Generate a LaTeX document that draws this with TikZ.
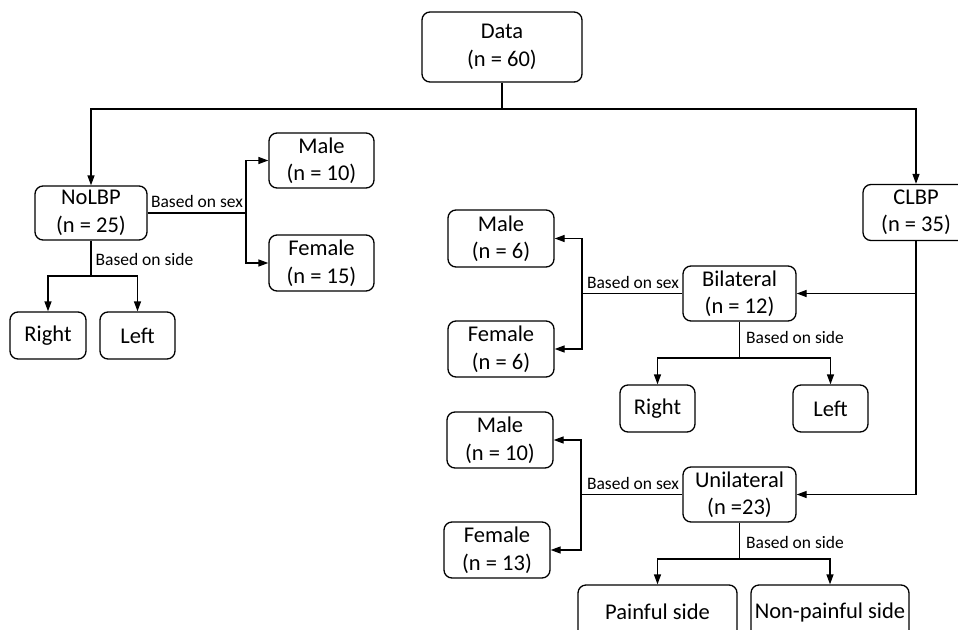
\documentclass[tikz,border=0pt]{standalone}
\usepackage{fontspec}
\setmainfont{Carlito}
\usetikzlibrary{arrows.meta}
\begin{document}
\begin{tikzpicture}[x=1pt,y=-1pt,
  box/.style={draw, line width=1.3pt, rounded corners=8pt, align=center, inner sep=0pt,
    font=\fontsize{22.5}{27.5}\selectfont},
  lab/.style={font=\fontsize{17.5}{20}\selectfont, inner sep=0pt},
  conn/.style={line width=1.3pt},
  arr/.style={conn, -{Triangle[length=10pt,width=7pt]}}]
\fill[white] (0,0) rectangle (958,629);
\useasboundingbox (0,0) rectangle (958,629);

% nodes
\node[box, minimum width=160pt, minimum height=70pt] (data) at (502,47) {Data\\(n = 60)};
\node[box, minimum width=112pt, minimum height=54pt] (nolbp) at (91,213) {NoLBP\\(n = 25)};
\node[box, minimum width=106pt, minimum height=56pt] (clbp) at (916,212.5) {CLBP\\(n = 35)};

\node[box, minimum width=105pt, minimum height=55pt] (m1) at (321.5,160.5) {Male\\(n = 10)};
\node[box, minimum width=105pt, minimum height=56pt] (f1) at (321.5,263) {Female\\(n = 15)};
\node[box, minimum width=76pt, minimum height=47pt] (r1) at (48,335.5) {Right};
\node[box, minimum width=75pt, minimum height=47pt] (l1) at (137.5,335.5) {Left};

\node[box, minimum width=113pt, minimum height=55pt] (bil) at (739.5,293.5) {Bilateral\\(n = 12)};
\node[box, minimum width=106pt, minimum height=57pt] (m2) at (501,238.5) {Male\\(n = 6)};
\node[box, minimum width=106pt, minimum height=56pt] (f2) at (501,349) {Female\\(n = 6)};
\node[box, minimum width=75pt, minimum height=47pt] (r2) at (657.5,408.5) {Right};
\node[box, minimum width=75pt, minimum height=47pt] (l2) at (830.5,408.5) {Left};

\node[box, minimum width=113pt, minimum height=55pt] (uni) at (739.5,494.5) {Unilateral\\(n =23)};
\node[box, minimum width=106pt, minimum height=56pt] (m3) at (500,440) {Male\\(n = 10)};
\node[box, minimum width=106pt, minimum height=56pt] (f3) at (497,550) {Female\\(n = 13)};
\node[box, minimum width=159pt, minimum height=54pt] (pain) at (657.5,612) {Painful side};
\node[box, minimum width=158pt, minimum height=54pt] (npain) at (830,612) {Non-painful side};

% junction points
\coordinate (top) at (502,109);
\coordinate (s1) at (246,213);
\coordinate (d1) at (91,276);
\coordinate (c1) at (916,293.5);
\coordinate (s2) at (582,293.5);
\coordinate (d2) at (739.5,358);
\coordinate (s3) at (581,494.5);
\coordinate (d3) at (739.5,559);

% connectors
\draw[conn] (data.south) -- (top);
\draw[arr] (top) -| (nolbp.north);
\draw[arr] (top) -| (clbp.north);

\draw[conn] (nolbp.east) -- (s1);
\draw[arr] (s1) |- (m1.west);
\draw[arr] (s1) |- (f1.west);
\draw[conn] (nolbp.south) -- (d1);
\draw[arr] (d1) -| (r1.north);
\draw[arr] (d1) -| (l1.north);

\draw[arr] (clbp.south) |- (uni.east);
\draw[arr] (c1) -- (bil.east);

\draw[conn] (bil.west) -- (s2);
\draw[arr] (s2) |- (m2.east);
\draw[arr] (s2) |- (f2.east);
\draw[conn] (bil.south) -- (d2);
\draw[arr] (d2) -| (r2.north);
\draw[arr] (d2) -| (l2.north);

\draw[conn] (uni.west) -- (s3);
\draw[arr] (s3) |- (m3.east);
\draw[arr] (s3) |- (f3.east);
\draw[conn] (uni.south) -- (d3);
\draw[arr] (d3) -| (pain.north);
\draw[arr] (d3) -| (npain.north);

% labels
\node[lab] (ls1) at (197,201) {Based on sex};
\node[lab] (ld1) at (144.5,259) {Based on side};
\node[lab] (ls2) at (633,282) {Based on sex};
\node[lab] (ld2) at (795,337) {Based on side};
\node[lab] (ls3) at (633,483) {Based on sex};
\node[lab] (ld3) at (795,542) {Based on side};
\end{tikzpicture}
\end{document}
